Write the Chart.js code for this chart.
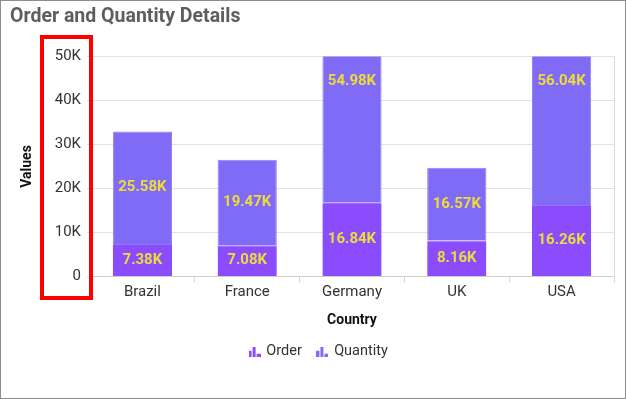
<!DOCTYPE html>
<html>
<head>
<meta charset="utf-8">
<script src="https://cdn.jsdelivr.net/npm/chart.js@4"></script>
<style>
  html, body { margin: 0; padding: 0; background: #fff; }
  #wrap { position: relative; width: 626px; height: 399px; border: 1px solid #8c8c8c; box-sizing: border-box; }
  #wrap canvas { position: absolute; left: 0; top: 0; }
</style>
</head>
<body>
<div id="wrap"><canvas id="chart" width="624" height="397"></canvas></div>
<script>
const countries = ["Brazil", "France", "Germany", "UK", "USA"];
const orderValues = [7380, 7080, 16840, 8160, 16260];
const quantityValues = [25580, 19470, 54980, 16570, 56040];
const yMax = 50000;
const yStep = 10000;

const orderColor = "#8a4cfd";
const quantityColor = "#806bf6";

// little bar-chart icon used as legend marker
function legendIcon(color) {
  const c = document.createElement("canvas");
  c.width = 12;
  c.height = 10;
  const g = c.getContext("2d");
  g.fillStyle = color;
  g.fillRect(0, 4, 3, 6);
  g.fillRect(4, 0, 3, 10);
  g.fillRect(8, 7, 4, 3);
  return c;
}

function formatK(v) {
  return (v / 1000).toFixed(2) + "K";
}

const barLabels = {
  id: "barLabels",
  afterDatasetsDraw(chart) {
    const ctx = chart.ctx;
    ctx.save();
    ctx.font = "bold 15px Roboto";
    ctx.fillStyle = "#ecdc3a";
    ctx.textAlign = "center";
    ctx.textBaseline = "middle";
    chart.data.datasets.forEach((ds, i) => {
      const meta = chart.getDatasetMeta(i);
      meta.data.forEach((bar, j) => {
        const p = bar.getProps(["x", "y", "base"], true);
        ctx.fillText(formatK(ds.data[j]), p.x, (p.y + p.base) / 2);
      });
    });
    ctx.restore();
  },
};

const redBox = {
  id: "redBox",
  afterDraw(chart) {
    const ctx = chart.ctx;
    ctx.save();
    ctx.strokeStyle = "#ff0000";
    ctx.lineWidth = 4;
    ctx.strokeRect(41, 36, 49, 261);
    ctx.restore();
  },
};

// nudge the legend a bit to the right, like the original
const legendShift = {
  id: "legendShift",
  afterLayout(chart) {
    if (chart.legend) chart.legend.left += 14;
  },
};

new Chart(document.getElementById("chart"), {
  type: "bar",
  data: {
    labels: countries,
    datasets: [
      {
        label: "Order",
        data: orderValues,
        backgroundColor: orderColor,
        borderColor: "#9a72fb",
        borderWidth: { top: 1 },
        pointStyle: legendIcon(orderColor),
        barPercentage: 0.565,
        categoryPercentage: 1,
      },
      {
        label: "Quantity",
        data: quantityValues,
        backgroundColor: quantityColor,
        borderColor: "#8f80f8",
        borderWidth: 1,
        pointStyle: legendIcon(quantityColor),
        barPercentage: 0.565,
        categoryPercentage: 1,
      },
    ],
  },
  options: {
    responsive: false,
    animation: false,
    layout: { padding: { left: 9, right: 11, top: 4, bottom: 29 } },
    plugins: {
      tooltip: { enabled: false },
      title: {
        display: true,
        text: "Order and Quantity Details",
        align: "start",
        color: "#5e5e5e",
        font: { family: "Roboto", size: 19.5, weight: "bold" },
        padding: { top: 0, bottom: 28 },
      },
      legend: {
        position: "bottom",
        labels: {
          usePointStyle: true,
          color: "#333",
          font: { family: "Roboto", size: 14.5 },
          boxWidth: 9,
          boxHeight: 10,
          padding: 16,
        },
      },
    },
    scales: {
      x: {
        stacked: true,
        grid: { drawOnChartArea: false, drawTicks: true, tickLength: 6, color: "#d6d6d6" },
        border: { color: "#cfcfcf" },
        ticks: { color: "#333", font: { family: "Roboto", size: 15 }, padding: 1 },
        title: {
          display: true,
          text: "Country",
          color: "#111",
          font: { family: "Roboto", size: 14, weight: "bold" },
          padding: { top: 0, bottom: 0 },
        },
        afterFit(scale) {
          scale.height = 52;
        },
      },
      y: {
        stacked: true,
        min: 0,
        max: yMax,
        grid: { color: "#e2e2e2", tickLength: 3 },
        border: { display: false },
        ticks: {
          stepSize: yStep,
          padding: 6,
          color: "#333",
          font: { family: "Roboto", size: 15 },
          callback: (v) => (v === 0 ? "0" : v / 1000 + "K"),
        },
        title: {
          display: true,
          text: "Values",
          color: "#111",
          font: { family: "Roboto", size: 14, weight: "bold" },
          padding: { top: 9, bottom: 0 },
        },
        afterFit(scale) {
          scale.width = 80;
        },
      },
      y2: {
        position: "right",
        display: true,
        grid: { drawOnChartArea: false, drawTicks: false },
        border: { color: "#dcdcdc" },
        ticks: { display: false },
        afterFit(scale) {
          scale.width = 0;
        },
      },
    },
  },
  plugins: [barLabels, redBox, legendShift],
});
</script>
</body>
</html>
